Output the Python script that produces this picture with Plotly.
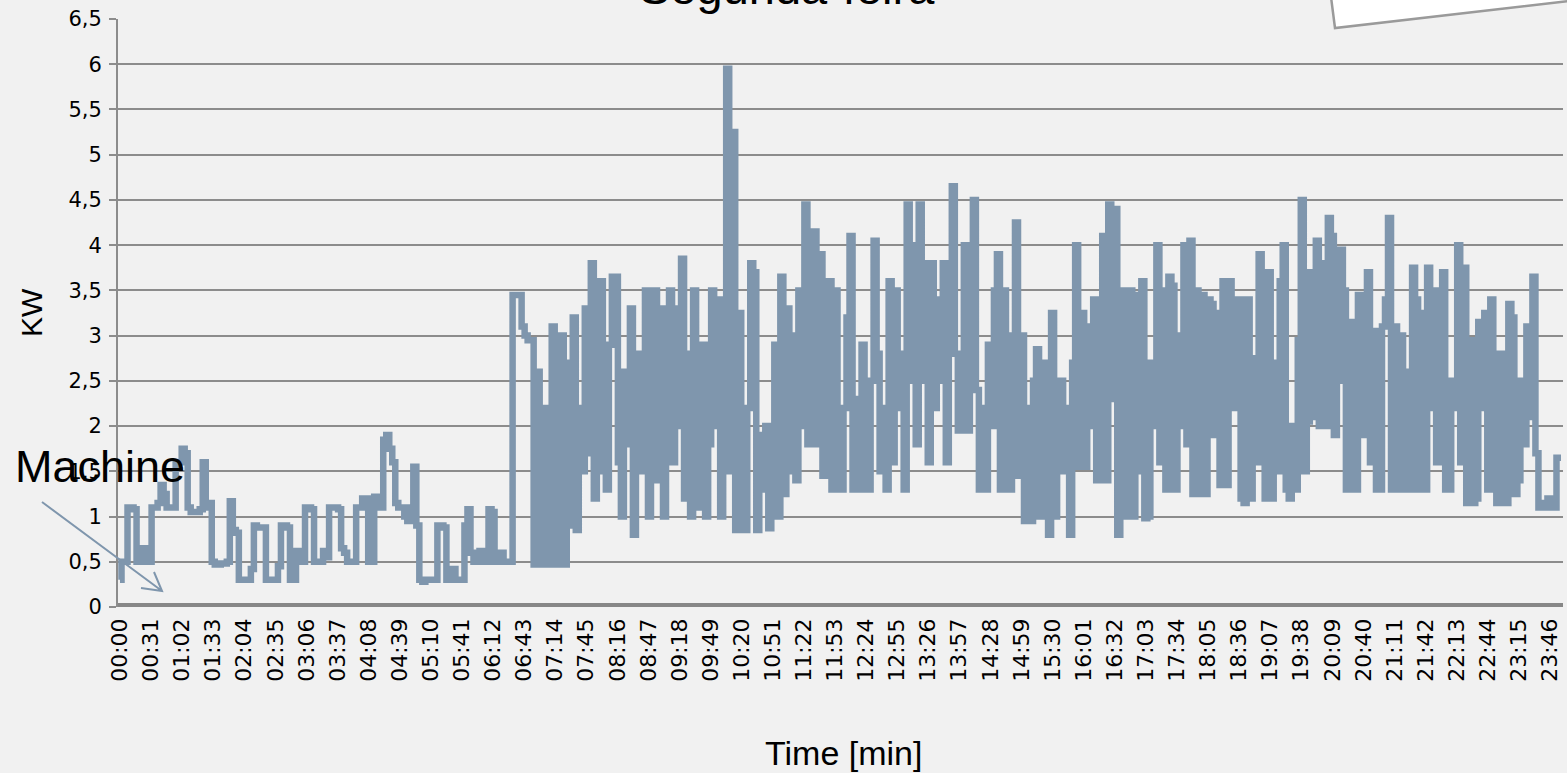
import plotly.graph_objects as go

# ---------------- data ----------------
tick_labels = ["00:00", "00:31", "01:02", "01:33", "02:04", "02:35", "03:06", "03:37",
               "04:08", "04:39", "05:10", "05:41", "06:12", "06:43", "07:14", "07:45",
               "08:16", "08:47", "09:18", "09:49", "10:20", "10:51", "11:22", "11:53",
               "12:24", "12:55", "13:26", "13:57", "14:28", "14:59", "15:30", "16:01",
               "16:32", "17:03", "17:34", "18:05", "18:36", "19:07", "19:38", "20:09",
               "20:40", "21:11", "21:42", "22:13", "22:44", "23:15", "23:46"]

y_tick_values = [0, 0.5, 1, 1.5, 2, 2.5, 3, 3.5, 4, 4.5, 5, 5.5, 6, 6.5]
y_tick_text = ["0", "0,5", "1", "1,5", "2", "2,5", "3", "3,5", "4", "4,5", "5", "5,5", "6", "6,5"]

sample_step_min = 3  # one reading every 3 minutes, starting at 00:00

kw = [
    0.3, 0.5, 0.5, 1.1, 1.1, 1.08, 0.5, 0.5, 0.65, 0.5,
    0.5, 1.1, 1.1, 1.15, 1.35, 1.25, 1.1, 1.1, 1.1, 1.6,
    1.6, 1.75, 1.7, 1.1, 1.05, 1.05, 1.05, 1.08, 1.6, 1.1,
    1.15, 0.5, 0.47, 0.47, 0.48, 0.48, 0.5, 1.17, 0.85, 0.82,
    0.3, 0.3, 0.3, 0.3, 0.42, 0.9, 0.88, 0.88, 0.88, 0.3,
    0.3, 0.3, 0.3, 0.45, 0.9, 0.9, 0.88, 0.3, 0.3, 0.62,
    0.6, 0.5, 1.1, 1.1, 1.08, 0.5, 0.5, 0.5, 0.62, 0.55,
    1.1, 1.1, 1.1, 1.08, 0.65, 0.6, 0.5, 0.5, 0.5, 1.1,
    1.1, 1.2, 1.2, 0.5, 0.5, 1.22, 1.22, 1.1, 1.85, 1.9,
    1.75, 1.6, 1.15, 1.1, 1.1, 1.0, 0.95, 1.1, 1.55, 0.9,
    0.3, 0.28, 0.3, 0.3, 0.3, 0.3, 0.9, 0.9, 0.88, 0.3,
    0.3, 0.42, 0.3, 0.3, 0.3, 0.9, 1.08, 0.6, 0.5, 0.5,
    0.62, 0.5, 0.5, 1.08, 1.05, 0.5, 0.5, 0.6, 0.5, 0.5,
    0.5, 3.45, 3.45, 3.45, 3.1, 3.0, 2.95, 2.95, 0.47, 2.6,
    0.47, 2.2, 1.8, 0.47, 3.1, 0.47, 1.5, 3.0, 0.47, 2.7,
    0.9, 3.2, 0.85, 2.2, 1.5, 3.3, 1.7, 3.8, 1.2, 1.5,
    3.6, 1.9, 1.3, 2.9, 3.65, 3.65, 1.6, 1.0, 2.6, 1.8,
    3.3, 0.8, 2.5, 2.8, 1.5, 3.5, 1.0, 2.2, 3.5, 1.4,
    3.3, 1.0, 2.2, 3.5, 1.6, 3.3, 2.0, 3.85, 1.2, 2.8,
    1.0, 3.5, 1.1, 2.4, 2.9, 1.0, 1.8, 3.5, 2.0, 3.4,
    1.0, 2.8, 5.95, 1.5, 5.25, 0.85, 3.25, 1.5, 0.85, 2.2,
    3.8, 3.7, 0.85, 1.9, 1.3, 2.0, 0.87, 1.8, 2.9, 1.0,
    3.65, 1.25, 3.3, 1.5, 3.0, 1.4, 3.5, 2.0, 4.45, 1.8,
    4.05, 4.15, 1.8, 3.9, 1.45, 2.2, 3.6, 1.3, 3.5, 2.0,
    1.3, 2.2, 3.2, 4.1, 1.3, 2.3, 1.3, 2.9, 2.0, 1.3,
    2.5, 4.05, 2.8, 1.5, 2.2, 1.3, 3.6, 1.6, 3.5, 2.2,
    2.8, 1.3, 4.45, 2.5, 4.0, 1.8, 4.45, 2.5, 3.8, 1.6,
    3.8, 2.2, 3.4, 2.5, 3.8, 1.6, 3.5, 4.65, 2.8, 1.95,
    2.5, 4.0, 1.95, 3.9, 4.5, 2.4, 1.3, 2.2, 1.3, 2.9,
    2.0, 3.5, 3.9, 1.3, 3.5, 3.0, 1.3, 2.5, 4.25, 1.45,
    3.0, 0.95, 2.2, 0.95, 2.5, 2.85, 1.0, 2.7, 1.6, 0.8,
    3.25, 1.0, 2.4, 2.5, 1.5, 2.2, 0.8, 2.7, 4.0, 1.55,
    3.25, 1.55, 3.1, 2.0, 3.4, 1.4, 3.2, 4.1, 1.4, 4.45,
    2.3, 4.4, 0.8, 2.5, 3.5, 1.0, 3.5, 1.0, 3.45, 1.5,
    3.6, 0.98, 1.0, 2.7, 2.0, 4.0, 1.6, 3.5, 1.3, 3.65,
    3.55, 1.3, 3.0, 2.0, 4.0, 1.8, 4.05, 1.25, 3.5, 1.25,
    3.45, 1.25, 3.4, 3.35, 1.9, 3.25, 1.35, 3.6, 1.35, 3.6,
    2.2, 3.2, 3.4, 1.2, 1.15, 3.4, 1.2, 2.75, 1.6, 3.9,
    2.75, 1.2, 3.7, 1.2, 2.7, 1.5, 3.6, 4.0, 1.3, 1.2,
    2.0, 1.3, 2.95, 4.5, 1.5, 2.05, 3.7, 2.1, 4.05, 2.0,
    3.8, 2.0, 4.3, 4.1, 1.9, 2.5, 3.95, 3.5, 1.3, 1.3,
    3.15, 1.3, 3.45, 1.9, 2.5, 3.7, 1.6, 3.05, 1.3, 1.3,
    3.1, 3.4, 4.3, 1.3, 3.1, 1.3, 3.0, 1.3, 2.6, 1.3,
    3.75, 3.4, 1.3, 3.25, 1.3, 3.75, 2.2, 3.5, 1.6, 1.6,
    3.7, 1.3, 1.3, 2.5, 2.2, 4.0, 1.6, 3.75, 1.15, 2.95,
    1.15, 1.2, 3.15, 2.2, 3.25, 1.3, 3.4, 2.0, 1.15, 2.8,
    2.7, 1.15, 3.35, 3.2, 1.25, 1.4, 2.5, 1.8, 3.1, 2.1,
    3.65, 1.7, 1.1, 1.15, 1.1, 1.2, 1.1, 1.1, 1.65, 1.65,
]

# ---------------- derived ----------------
minutes = [i * sample_step_min for i in range(len(kw))]
tick_minutes = [int(t[:2]) * 60 + int(t[3:]) for t in tick_labels]

# ---------------- layout helpers (pixel -> paper) ----------------
W, H = 1567, 773
L, R, T, B = 118, 1563, 19, 607


def px(x):
    return (x - L) / (R - L)


def py(y):
    return (B - y) / (B - T)


FONT = "Liberation Sans, Arial, sans-serif"
TICK_FONT = "DejaVu Sans, Verdana, sans-serif"
LINE_COLOR = "#7f96ad"
GRID_COLOR = "#8c8c8c"
BG = "#f1f1f1"

fig = go.Figure()
fig.add_trace(go.Scatter(
    x=minutes, y=kw, mode="lines",
    line=dict(color=LINE_COLOR, width=6.5, shape="hvh"),
    showlegend=False, hoverinfo="skip",
))

shapes = [
    # thick base axis line
    dict(type="line", xref="paper", yref="y", x0=0, x1=1, y0=0, y1=0,
         line=dict(color="#878787", width=8), layer="above"),
    # white note corner in the top right
    dict(type="path", xref="paper", yref="paper",
         path=f"M {px(1331)},{py(-3)} L {px(1335)},{py(28)} L {px(1570)},{py(1)} L {px(1570)},{py(-3)} Z",
         fillcolor="#ffffff", line=dict(color="#9a9a9a", width=2.5), layer="above"),
    # arrow for "Machine"
    dict(type="path", xref="paper", yref="paper",
         path=(f"M {px(42)},{py(502)} L {px(162)},{py(591)} "
               f"M {px(141)},{py(588)} L {px(162)},{py(591)} L {px(154)},{py(572)}"),
         line=dict(color=LINE_COLOR, width=2), layer="above"),
]

annotations = [
    dict(text="Segunda-feira", xref="paper", yref="paper", x=px(787), y=py(16),
         xanchor="center", yanchor="bottom", showarrow=False,
         font=dict(family=FONT, size=47, color="#000000")),
    dict(text="Machine", xref="paper", yref="paper", x=px(13), y=py(494),
         xanchor="left", yanchor="bottom", showarrow=False,
         font=dict(family=FONT, size=45, color="#000000")),
    dict(text="KW", xref="paper", yref="paper", x=px(31), y=py(313),
         xanchor="center", yanchor="middle", textangle=-90, showarrow=False,
         font=dict(family=FONT, size=30, color="#000000")),
    dict(text="Time [min]", xref="paper", yref="paper", x=px(843), y=py(753),
         xanchor="center", yanchor="middle", showarrow=False,
         font=dict(family=FONT, size=34, color="#000000")),
]

fig.update_layout(
    width=W, height=H,
    margin=dict(l=L, r=W - R, t=T, b=H - B, pad=0),
    paper_bgcolor=BG, plot_bgcolor=BG,
    shapes=shapes, annotations=annotations,
    showlegend=False,
    xaxis=dict(
        range=[-2, 1439], tickmode="array", tickvals=tick_minutes, ticktext=tick_labels,
        tickangle=-90, showgrid=False, zeroline=False, showline=False, ticks="",
        tickfont=dict(family=TICK_FONT, size=22, color="#000000"),
        ticklabelstandoff=6, fixedrange=True,
    ),
    yaxis=dict(
        range=[0, 6.5], tickmode="array", tickvals=y_tick_values, ticktext=y_tick_text,
        showgrid=True, gridcolor=GRID_COLOR, gridwidth=2,
        zeroline=False, showline=True, linecolor=GRID_COLOR, linewidth=2,
        ticks="outside", ticklen=7, tickwidth=2, tickcolor=GRID_COLOR,
        tickfont=dict(family=TICK_FONT, size=21, color="#000000"),
        ticklabelstandoff=3, fixedrange=True,
    ),
)

fig.write_html("out.html", config={"displayModeBar": False},
               post_script="document.body.style.margin='0';")
